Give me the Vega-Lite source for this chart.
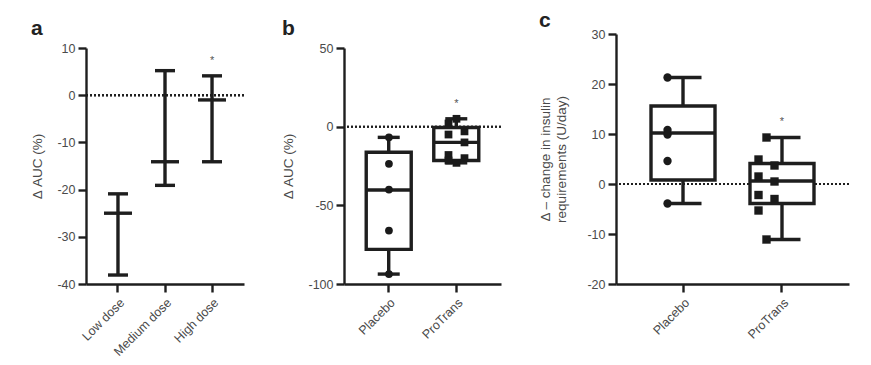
{
  "$schema": "https://vega.github.io/schema/vega-lite/v6.json",
  "background": "white",
  "padding": {"left": 30, "top": 10, "right": 5, "bottom": 5},
  "spacing": 36,
  "config": {
    "font": "Liberation Sans",
    "view": {"stroke": null},
    "tick": {"opacity": 1},
    "axis": {
      "domainColor": "#1e1e1e", "domainWidth": 2.4, "tickColor": "#1e1e1e", "tickWidth": 2.4, "tickSize": 8,
      "labelColor": "#4a4a4a", "labelFontSize": 12.5, "titleColor": "#4a4a4a", "titleFontSize": 13.5,
      "titleFontWeight": "normal", "grid": false, "labelPadding": 3
    },
    "title": {"anchor": "start", "frame": "bounds", "fontSize": 21, "fontWeight": "bold", "color": "#222"}
  },
  "datasets": {
    "a": [
      {"group": "Low dose", "min": -38.1, "median": -25, "max": -20.9, "star": null},
      {"group": "Medium dose", "min": -19.1, "median": -14.1, "max": 5.2, "star": null},
      {"group": "High dose", "min": -14.1, "median": -1, "max": 4.1, "star": 7.3}
    ],
    "bBox": [
      {"group": "Placebo", "min": -93.7, "q1": -78, "median": -40.3, "q3": -16.3, "max": -6.8, "star": null},
      {"group": "ProTrans", "min": -23, "q1": -21.5, "median": -10, "q3": -0.5, "max": 5, "star": 14.6}
    ],
    "bPts": [
      {"group": "Placebo", "value": -6.8},
      {"group": "Placebo", "value": -23.6},
      {"group": "Placebo", "value": -40},
      {"group": "Placebo", "value": -66},
      {"group": "Placebo", "value": -93.7},
      {"group": "ProTrans", "value": 5},
      {"group": "ProTrans", "value": 2},
      {"group": "ProTrans", "value": -3},
      {"group": "ProTrans", "value": -5},
      {"group": "ProTrans", "value": -10},
      {"group": "ProTrans", "value": -18},
      {"group": "ProTrans", "value": -20},
      {"group": "ProTrans", "value": -21.5},
      {"group": "ProTrans", "value": -23}
    ],
    "cBox": [
      {"group": "Placebo", "min": -3.9, "q1": 0.8, "median": 10.2, "q3": 15.6, "max": 21.3, "star": null},
      {"group": "ProTrans", "min": -11.1, "q1": -3.9, "median": 0.6, "q3": 4.1, "max": 9.3, "star": 12.5}
    ],
    "cPts": [
      {"group": "Placebo", "value": 21.3},
      {"group": "Placebo", "value": 10.8},
      {"group": "Placebo", "value": 9.9},
      {"group": "Placebo", "value": 4.6},
      {"group": "Placebo", "value": -3.9},
      {"group": "ProTrans", "value": 9.3},
      {"group": "ProTrans", "value": 4.9},
      {"group": "ProTrans", "value": 3.7},
      {"group": "ProTrans", "value": 1.5},
      {"group": "ProTrans", "value": 0.5},
      {"group": "ProTrans", "value": -2.2},
      {"group": "ProTrans", "value": -3},
      {"group": "ProTrans", "value": -5.3},
      {"group": "ProTrans", "value": -11.1}
    ]
  },
  "hconcat": [
    {
      "title": {"text": "a", "offset": -5},
      "width": 158, "height": 250,
      "data": {"name": "a"},
      "encoding": {
        "x": {"field": "group", "type": "nominal", "sort": null, "title": null,
          "scale": {"type": "band", "paddingInner": 0, "paddingOuter": 0.18},
          "axis": {"labelAngle": -45, "labelAlign": "right", "labelBaseline": "top", "labelPadding": 4}}
      },
      "layer": [
        {"mark": {"type": "rule", "strokeDash": [2, 2], "strokeWidth": 2, "color": "#1e1e1e"}, "encoding": {"x": null, "y": {"datum": 0}}},
        {"mark": {"type": "rule", "strokeWidth": 3.4, "color": "#1e1e1e"},
          "encoding": {"y": {"field": "min", "type": "quantitative", "scale": {"domain": [-40, 10], "nice": false, "range": [250, 14]},
            "axis": {"values": [10, 0, -10, -20, -30, -40], "labelExpr": "'' + datum.value", "title": "Δ AUC (%)", "titlePadding": 12}},
            "y2": {"field": "max"}}},
        {"mark": {"type": "tick", "size": 20, "thickness": 3.4, "color": "#1e1e1e"}, "encoding": {"y": {"field": "min", "type": "quantitative"}}},
        {"mark": {"type": "tick", "size": 20, "thickness": 3.4, "color": "#1e1e1e"}, "encoding": {"y": {"field": "max", "type": "quantitative"}}},
        {"mark": {"type": "tick", "size": 28, "thickness": 3.4, "color": "#1e1e1e"}, "encoding": {"y": {"field": "median", "type": "quantitative"}}},
        {"mark": {"type": "text", "text": "*", "fontSize": 11, "color": "#555", "baseline": "middle"}, "encoding": {"y": {"field": "star", "type": "quantitative"}}}
      ]
    },
    {
      "title": {"text": "b", "offset": -5},
      "width": 157, "height": 250,
      "encoding": {
        "x": {"field": "group", "type": "nominal", "sort": ["Placebo", "ProTrans"], "title": null,
          "scale": {"type": "band", "domain": ["Placebo", "ProTrans"], "paddingInner": 0, "paddingOuter": 0.162},
          "axis": {"labelAngle": -45, "labelAlign": "right", "labelBaseline": "top", "labelPadding": 4}}
      },
      "layer": [
        {"data": {"name": "bBox"}, "mark": {"type": "rule", "strokeDash": [2, 2], "strokeWidth": 2, "color": "#1e1e1e"}, "encoding": {"x": null, "y": {"datum": 0}}},
        {"data": {"name": "bBox"}, "mark": {"type": "rule", "strokeWidth": 3.4, "color": "#1e1e1e"},
          "encoding": {"y": {"field": "min", "type": "quantitative", "scale": {"domain": [-100, 50], "nice": false, "range": [250, 14]},
            "axis": {"values": [50, 0, -50, -100], "labelExpr": "'' + datum.value", "title": "Δ AUC (%)", "titlePadding": 12}},
            "y2": {"field": "max"}}},
        {"data": {"name": "bBox"}, "mark": {"type": "bar", "width": 45, "fill": "white", "stroke": "#1e1e1e", "strokeWidth": 3.4},
          "encoding": {"y": {"field": "q1", "type": "quantitative"}, "y2": {"field": "q3"}}},
        {"data": {"name": "bBox"}, "mark": {"type": "tick", "size": 22, "thickness": 3.4, "color": "#1e1e1e"}, "encoding": {"y": {"field": "min", "type": "quantitative"}}},
        {"data": {"name": "bBox"}, "mark": {"type": "tick", "size": 22, "thickness": 3.4, "color": "#1e1e1e"}, "encoding": {"y": {"field": "max", "type": "quantitative"}}},
        {"data": {"name": "bBox"}, "mark": {"type": "tick", "size": 45, "thickness": 3.4, "color": "#1e1e1e"}, "encoding": {"y": {"field": "median", "type": "quantitative"}}},
        {"data": {"name": "bBox"}, "mark": {"type": "text", "text": "*", "fontSize": 11, "color": "#555", "baseline": "middle"}, "encoding": {"y": {"field": "star", "type": "quantitative"}}},
        {"data": {"name": "bPts"},
          "transform": [
            {"window": [{"op": "row_number", "as": "rn"}], "groupby": ["group"], "sort": [{"field": "value", "order": "descending"}]},
            {"joinaggregate": [{"op": "count", "as": "n"}], "groupby": ["group"]},
            {"calculate": "datum.group == 'ProTrans' && datum.rn > 1 && datum.rn < datum.n ? (datum.rn % 2 == 0 ? -1 : 1) : 0", "as": "lane"}
          ],
          "mark": {"type": "point", "filled": true, "opacity": 1, "color": "#1a1a1a", "size": 60},
          "encoding": {
            "y": {"field": "value", "type": "quantitative"},
            "xOffset": {"field": "lane", "type": "quantitative", "scale": {"domain": [-1, 1], "range": [26, 42]}},
            "shape": {"field": "group", "type": "nominal", "scale": {"domain": ["Placebo", "ProTrans"], "range": ["circle", "square"]}, "legend": null}
          }}
      ]
    },
    {
      "title": {"text": "c", "offset": -3},
      "width": 233, "height": 250,
      "encoding": {
        "x": {"field": "group", "type": "nominal", "sort": ["Placebo", "ProTrans"], "title": null,
          "scale": {"type": "band", "domain": ["Placebo", "ProTrans"], "paddingInner": 0, "paddingOuter": 0.177},
          "axis": {"labelAngle": -45, "labelAlign": "right", "labelBaseline": "top", "labelPadding": 4}}
      },
      "layer": [
        {"data": {"name": "cBox"}, "mark": {"type": "rule", "strokeDash": [2, 2], "strokeWidth": 2, "color": "#1e1e1e"}, "encoding": {"x": null, "y": {"datum": 0}}},
        {"data": {"name": "cBox"}, "mark": {"type": "rule", "strokeWidth": 3.4, "color": "#1e1e1e"},
          "encoding": {"y": {"field": "min", "type": "quantitative", "scale": {"domain": [-20, 30], "nice": false},
            "axis": {"values": [30, 20, 10, 0, -10, -20], "labelExpr": "'' + datum.value", "title": ["Δ – change in insulin", "requirements (U/day)"], "titlePadding": 18, "titleLineHeight": 16}},
            "y2": {"field": "max"}}},
        {"data": {"name": "cBox"}, "mark": {"type": "bar", "width": 64, "fill": "white", "stroke": "#1e1e1e", "strokeWidth": 3.4},
          "encoding": {"y": {"field": "q1", "type": "quantitative"}, "y2": {"field": "q3"}}},
        {"data": {"name": "cBox"}, "mark": {"type": "tick", "size": 37, "thickness": 3.4, "color": "#1e1e1e"}, "encoding": {"y": {"field": "min", "type": "quantitative"}}},
        {"data": {"name": "cBox"}, "mark": {"type": "tick", "size": 37, "thickness": 3.4, "color": "#1e1e1e"}, "encoding": {"y": {"field": "max", "type": "quantitative"}}},
        {"data": {"name": "cBox"}, "mark": {"type": "tick", "size": 64, "thickness": 3.4, "color": "#1e1e1e"}, "encoding": {"y": {"field": "median", "type": "quantitative"}}},
        {"data": {"name": "cBox"}, "mark": {"type": "text", "text": "*", "fontSize": 11, "color": "#555", "baseline": "middle"}, "encoding": {"y": {"field": "star", "type": "quantitative"}}},
        {"data": {"name": "cPts"},
          "transform": [
            {"window": [{"op": "row_number", "as": "rn"}], "groupby": ["group"], "sort": [{"field": "value", "order": "descending"}]},
            {"joinaggregate": [{"op": "count", "as": "n"}], "groupby": ["group"]},
            {"calculate": "datum.group == 'ProTrans' && datum.rn > 1 && datum.rn < datum.n ? (datum.rn % 2 == 0 ? -1 : 1) : 0", "as": "lane"}
          ],
          "mark": {"type": "point", "filled": true, "opacity": 1, "color": "#1a1a1a", "size": 70},
          "encoding": {
            "y": {"field": "value", "type": "quantitative"},
            "xOffset": {"field": "lane", "type": "quantitative", "scale": {"domain": [-1, 1], "range": [39, 60]}},
            "shape": {"field": "group", "type": "nominal", "scale": {"domain": ["Placebo", "ProTrans"], "range": ["circle", "square"]}, "legend": null}
          }}
      ]
    }
  ]
}
